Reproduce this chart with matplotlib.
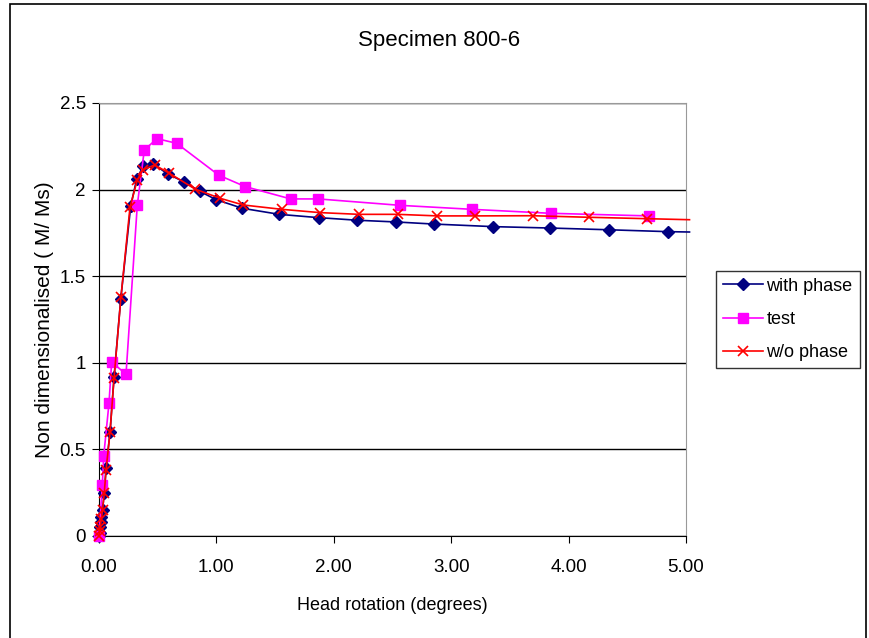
import matplotlib
matplotlib.use('Agg')
import matplotlib.pyplot as plt
from matplotlib.patches import Rectangle

plt.rcParams['font.family'] = ['Liberation Sans', 'DejaVu Sans']

# with phase
x_with = [0.0, 0.005, 0.01, 0.015, 0.02, 0.03, 0.045, 0.06, 0.094, 0.128, 0.185, 0.27, 0.321,
          0.378, 0.463, 0.585, 0.727, 0.858, 0.997, 1.221, 1.536, 1.87, 2.20, 2.53, 2.85,
          3.36, 3.84, 4.34, 4.85, 5.03]
y_with = [0.0, 0.02, 0.05, 0.08, 0.11, 0.15, 0.25, 0.39, 0.60, 0.916, 1.367, 1.905, 2.061,
          2.138, 2.148, 2.09, 2.044, 1.99, 1.942, 1.892, 1.857, 1.838, 1.823, 1.813, 1.801,
          1.786, 1.778, 1.768, 1.757, 1.755]

# test
x_test = [0.0, 0.028, 0.04, 0.085, 0.108, 0.23, 0.326, 0.386, 0.494, 0.662, 1.02, 1.246,
          1.633, 1.868, 2.564, 3.175, 3.847, 4.682]
y_test = [0.0, 0.294, 0.462, 0.766, 1.006, 0.933, 1.909, 2.229, 2.294, 2.267, 2.083, 2.017,
          1.946, 1.946, 1.909, 1.886, 1.863, 1.848]

# w/o phase
x_wo = [0.0, 0.005, 0.01, 0.02, 0.03, 0.045, 0.06, 0.094, 0.128, 0.187, 0.264, 0.326, 0.372,
        0.474, 0.60, 0.818, 1.03, 1.229, 1.556, 1.882, 2.215, 2.544, 2.882, 3.203, 3.694,
        4.174, 4.665, 5.03]
y_wo = [0.0, 0.03, 0.05, 0.10, 0.15, 0.25, 0.38, 0.60, 0.91, 1.38, 1.898, 2.055, 2.113,
        2.142, 2.094, 2.003, 1.95, 1.911, 1.886, 1.867, 1.857, 1.857, 1.848, 1.848, 1.849,
        1.840, 1.832, 1.826]

fig = plt.figure(figsize=(8.7, 6.38), dpi=100)
fig.patches.append(Rectangle((0.012, -0.01), 0.983, 1.0035, transform=fig.transFigure,
                             fill=False, edgecolor='black', linewidth=1.2))
ax = fig.add_axes([0.1138, 0.1599, 0.6747, 0.6787])

ax.plot(x_with, y_with, color='#000080', marker='D', markersize=6, linewidth=1.2,
        markevery=list(range(len(x_with) - 1)), label='with phase', clip_on=False, zorder=3)
ax.plot(x_test, y_test, color='#FF00FF', marker='s', markersize=7, linewidth=1.2,
        label='test', clip_on=False, zorder=4)
ax.plot(x_wo, y_wo, color='#FF0000', marker='x', markersize=7.5, markeredgewidth=1.2,
        linewidth=1.2, markevery=list(range(len(x_wo) - 1)), label='w/o phase',
        clip_on=False, zorder=5)

ax.set_xlim(0, 5)
ax.set_ylim(0, 2.5)
ax.set_xticks([0, 1, 2, 3, 4, 5])
ax.set_xticklabels(['0.00', '1.00', '2.00', '3.00', '4.00', '5.00'])
ax.set_yticks([0, 0.5, 1, 1.5, 2, 2.5])
ax.set_yticklabels(['0', '0.5', '1', '1.5', '2', '2.5'])
ax.tick_params(labelsize=13.5, direction='out', length=5)
ax.tick_params(axis='x', pad=11.5)
ax.tick_params(axis='y', pad=4.5)
ax.yaxis.grid(True, color='black', linewidth=1)
ax.set_axisbelow(True)
ax.spines['top'].set_color('#999999')
ax.spines['right'].set_color('#999999')

fig.text(0.505, 0.937, 'Specimen 800-6', fontsize=16, ha='center', va='center')
ax.set_xlabel('Head rotation (degrees)', fontsize=13, labelpad=15)
ax.set_ylabel('Non dimensionalised ( M/ Ms)', fontsize=15, labelpad=4)

leg = ax.legend(loc='center left', bbox_to_anchor=(1.051, 0.5), fontsize=13,
                frameon=True, fancybox=False, edgecolor='black', handlelength=2.2,
                borderpad=0.4, labelspacing=0.9, handletextpad=0.2, borderaxespad=0)
leg.get_frame().set_linewidth(1.0)

fig.savefig('out.png', dpi=100)
